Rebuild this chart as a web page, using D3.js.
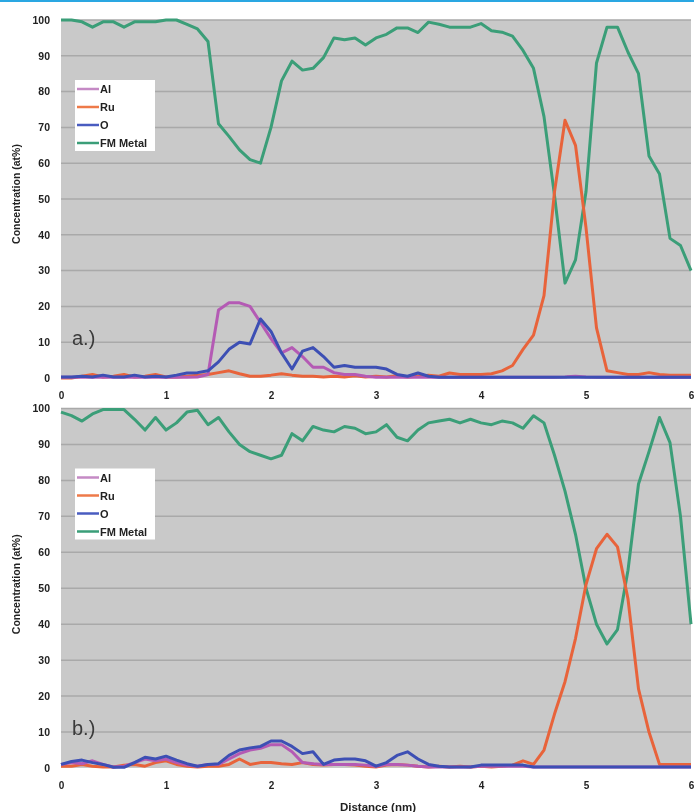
<!DOCTYPE html>
<html>
<head>
<meta charset="utf-8">
<script src="https://cdn.jsdelivr.net/npm/d3@7"></script>
<style>
  body { margin: 0; background: #fff; }
  svg { display: block; font-family: "Liberation Sans", Arial, sans-serif; }
</style>
</head>
<body>
<div id="chart"></div>
<script>
// distance (nm), sampled every 0.1 nm
var distance = d3.range(0, 61).map(function (i) { return i / 10; });

var seriesNames = ["Al", "Ru", "O", "FM Metal"];
var tickX = [0, 1, 2, 3, 4, 5, 6];
var tickY = [0, 10, 20, 30, 40, 50, 60, 70, 80, 90, 100];

// panel a.)
var alA = [0.2,0.2,0.2,0.2,0.2,0.2,0.2,0.2,0.2,0.2,0.2,0.2,0.2,0.3,1,19,21,21,20,15.5,11,7,8.5,6,3,3,1.5,1,1,0.5,
  0.2,0.2,0.2,0.2,0.2,0.2,0.2,0.2,0.2,0.2,0.2,0.2,0.2,0.2,0.2,0.2,0.2,0.2,0.3,0.5,0.3,0.2,0.2,0.2,0.2,0.2,0.2,0.2,0.2,0.2,0.2];
var ruA = [0,0,0.5,1,0.3,0.5,1,0.3,0.5,1,0.3,0.3,0.5,0.8,1,1.5,2,1.2,0.5,0.5,0.8,1.2,0.8,0.5,0.5,0.3,0.5,0.3,0.6,0.3,
  0.5,0.3,0.6,0.3,0.5,0.8,0.5,1.4,1,1,1,1.2,2,3.5,8,12,23,52,72,65,42,14,2,1.5,1,1,1.5,1,0.8,0.8,0.8];
var oA = [0.3,0.3,0.5,0.3,0.8,0.3,0.3,0.8,0.3,0.5,0.3,0.8,1.4,1.5,2,4.5,8,10,9.5,16.5,13,7,2.5,7.5,8.5,6,3,3.5,3,3,
  3,2.5,1,0.5,1.4,0.5,0.2,0.2,0.2,0.2,0.2,0.2,0.2,0.2,0.2,0.2,0.2,0.2,0.2,0.2,0.2,0.2,0.2,0.2,0.2,0.2,0.2,0.2,0.2,0.2,0.2];
var fmA = [100,100,99.5,98,99.5,99.5,98,99.5,99.5,99.5,100,100,98.8,97.5,94,71,67.5,63.7,61,60,70,83,88.5,86,86.5,89.5,95,94.5,95,93,
  95,96,97.8,97.8,96.5,99.4,98.8,98,98,98,99,97,96.6,95.5,91.5,86.5,73,51,26.5,33,52,88,98,98,91,85,62,57,39,37,30];

// panel b.)
var alB = [1,1.5,1.2,2,1,0.3,0.5,1.5,2.5,2,2.5,1.5,0.8,0.5,1,1,2.5,4,5,5.5,6.5,6.5,4.5,1.5,1.2,1,1,1,1,0.8,
  0.5,1,1,0.8,0.5,0.3,0.3,0.3,0.3,0.3,0.5,0.5,0.5,0.5,0.5,0.3,0.3,0.3,0.3,0.3,0.3,0.3,0.3,0.3,0.3,0.3,0.3,0.3,0.3,0.3,0.3];
var ruB = [0.5,0.5,1,0.5,0.3,0.3,0.8,1,0.5,1.5,2,1,0.5,0.3,0.5,0.5,1,2.5,1,1.5,1.5,1.2,1,1.5,1,0.8,1,1,0.8,0.5,
  0.3,0.8,1,0.8,0.5,0.3,0.5,0.3,0.5,0.3,0.5,0.3,0.5,0.8,2,1,5,15,24,36,51,61,65,61.5,47,22,10,1,1,1,1];
var oB = [1,1.8,2.2,1.5,1,0.2,0.2,1.5,3,2.5,3.3,2.2,1.2,0.5,1,1.2,3.5,5,5.6,6,7.5,7.5,6,4,4.5,1,2.2,2.5,2.5,2,
  0.5,1.5,3.5,4.5,2.5,1,0.5,0.3,0.3,0.3,0.8,0.8,0.8,0.8,0.8,0.3,0.3,0.3,0.3,0.3,0.3,0.3,0.3,0.3,0.3,0.3,0.3,0.3,0.3,0.3,0.3];
var fmB = [99,98,96.5,98.5,99.7,99.7,99.7,97,94,97.5,94,96,99,99.5,95.5,97.5,93.5,90,88,87,86,87,93,91,95,94,93.5,95,94.5,93,
  93.5,95.5,92,91,94,96,96.5,97,96,97,96,95.5,96.5,96,94.5,98,96,87,77,65,50,40,34.5,38.5,55,79,88,97.5,90.5,70,40];

var colors = {"Al": "#b45ab4", "Ru": "#e8643a", "O": "#3c4fb4", "FM Metal": "#3a9e78"};
var legendColors = {"Al": "#c58ac5", "Ru": "#ee7a4a", "O": "#4a5cc0", "FM Metal": "#3a9e78"};

var width = 694, height = 812;

var svg = d3.select("#chart").append("svg")
    .attr("width", width)
    .attr("height", height);

var defs = svg.append("defs");
defs.append("filter").attr("id", "soft")
    .append("feGaussianBlur").attr("stdDeviation", 0.45);

var root = svg.append("g").attr("filter", "url(#soft)");

// thin blue rule at the very top of the figure
root.append("rect").attr("x", 0).attr("y", 0).attr("width", width).attr("height", 2).attr("fill", "#2aa7e2");

var x = d3.scaleLinear().domain([0, 6]).range([61, 691]);

function drawPanel(top, bottom, data, tag, titleShift, showXTitle) {
    var y = d3.scaleLinear().domain([0, 100]).range([bottom, top]);
    var g = root.append("g");

    // grey plot area
    g.append("rect")
        .attr("x", x(0)).attr("y", y(100))
        .attr("width", x(6) - x(0)).attr("height", y(0) - y(100))
        .attr("fill", "#c9c9c9");

    // horizontal grid
    g.selectAll(".grid").data(tickY.slice(1)).enter().append("line")
        .attr("x1", x(0)).attr("x2", x(6))
        .attr("y1", function (d) { return y(d); })
        .attr("y2", function (d) { return y(d); })
        .attr("stroke", "#a9a9a9").attr("stroke-width", 1.5);

    // axes: labels only
    var ay = g.append("g").attr("transform", "translate(" + (x(0) - 10) + ",0)")
        .call(d3.axisLeft(y).tickValues(tickY).tickSize(0).tickPadding(1));
    ay.select(".domain").remove();
    ay.selectAll("text").attr("font-size", 10.5).attr("font-weight", "bold").attr("fill", "#222")
        .attr("font-family", "Liberation Sans, Arial, sans-serif");

    var ax = g.append("g").attr("transform", "translate(0," + (bottom + 13) + ")")
        .call(d3.axisBottom(x).tickValues(tickX).tickSize(0).tickPadding(1).tickFormat(d3.format("d")));
    ax.select(".domain").remove();
    ax.selectAll("text").attr("font-size", 10).attr("font-weight", "bold").attr("fill", "#222")
        .attr("font-family", "Liberation Sans, Arial, sans-serif");

    // y title
    g.append("text")
        .attr("transform", "translate(20," + ((top + bottom) / 2 + titleShift) + ")rotate(-90)")
        .attr("text-anchor", "middle")
        .attr("font-size", 10.5).attr("font-weight", "bold").attr("fill", "#222")
        .text("Concentration (at%)");

    var line = d3.line()
        .x(function (d) { return x(d[0]); })
        .y(function (d) { return y(d[1]); });

    // draw order: green behind, then orange, purple, blue
    ["FM Metal", "Ru", "Al", "O"].forEach(function (name) {
        var vals = data[name];
        g.append("path")
            .datum(distance.map(function (d, i) { return [d, vals[i]]; }))
            .attr("fill", "none")
            .attr("stroke", colors[name])
            .attr("stroke-width", 3)
            .attr("stroke-linejoin", "round")
            .attr("d", line);
    });

    // legend
    var lg = g.append("g").attr("transform", "translate(75," + (y(100) + 60) + ")");
    lg.append("rect").attr("width", 80).attr("height", 71).attr("fill", "#fff");
    seriesNames.forEach(function (name, i) {
        var yy = 9 + i * 18;
        lg.append("line").attr("x1", 2).attr("x2", 24).attr("y1", yy).attr("y2", yy)
            .attr("stroke", legendColors[name]).attr("stroke-width", 2.5);
        lg.append("text").attr("x", 25).attr("y", yy + 4)
            .attr("font-size", 11).attr("font-weight", "bold").attr("fill", "#222")
            .text(name);
    });

    // panel tag
    g.append("text").attr("x", 72).attr("y", y(9.3))
        .attr("font-size", 20).attr("fill", "#3a3a3a")
        .text(tag);

    if (showXTitle) {
        g.append("text").attr("x", 378).attr("y", 811)
            .attr("text-anchor", "middle")
            .attr("font-size", 11.5).attr("font-weight", "bold").attr("fill", "#222")
            .text("Distance (nm)");
    }
}

drawPanel(20, 378, {"Al": alA, "Ru": ruA, "O": oA, "FM Metal": fmA}, "a.)", -5, false);
drawPanel(408.5, 768, {"Al": alB, "Ru": ruB, "O": oB, "FM Metal": fmB}, "b.)", -4, true);
</script>
</body>
</html>
